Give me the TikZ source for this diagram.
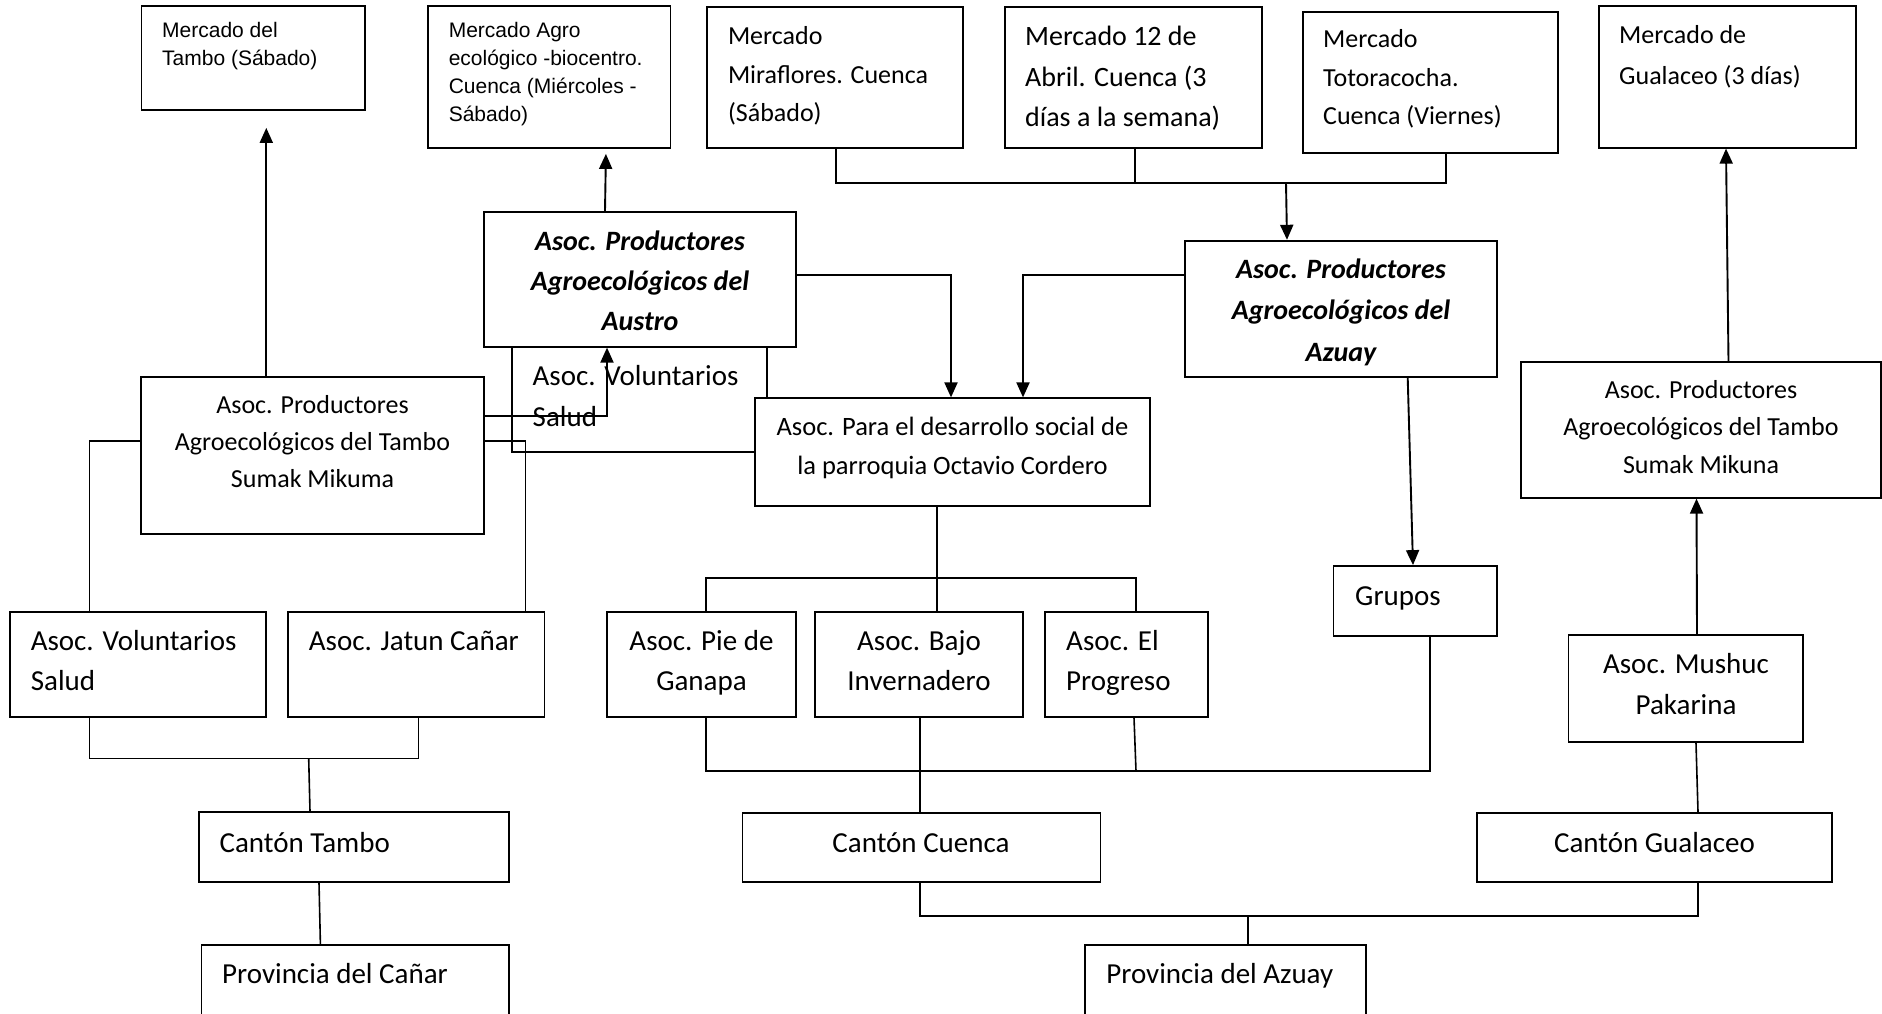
\documentclass[tikz,border=0pt]{standalone}
\usepackage{fontspec}
\setmainfont{Carlito}
\newfontfamily\arialf{Liberation Sans}
\usetikzlibrary{arrows.meta,fit}
\begin{document}
\begin{tikzpicture}[x=1pt,y=-1pt,
  box/.style={draw=black, line width=1.8pt, fill=white, inner sep=0pt},
  ln/.style={draw=black, line width=1.6pt},
  arr/.style={draw=black, line width=1.9pt, -{Triangle[length=15pt,width=13pt]}},
  tl/.style={inner sep=0pt, anchor=base west, align=left},
  tc/.style={inner sep=0pt, anchor=base, align=center},
  fA/.style={font=\arialf\fontsize{21}{28.2}\selectfont},
  fM/.style={font=\fontsize{26}{#1}\selectfont},
  fL/.style={font=\fontsize{28}{40.5}\selectfont},
  fX/.style={font=\fontsize{29}{#1}\selectfont},
  fX/.default=40.7,
  fB/.style={font=\bfseries\itshape\fontsize{28}{#1}\selectfont},
  fB/.default=40.4]
\useasboundingbox (0,0) rectangle (1882,1013);
\clip (0,0) rectangle (1882,1013);
\fill[white] (0,0) rectangle (1882,1013);

% top row markets (text anchors are at the baseline of the last line)
\node[box, fit={(141.5,6) (364.7,110)}] (mT) {};
\node[box, fit={(427.7,6) (670.5,148)}] (mA) {};
\node[box, fit={(706.8,6.7) (962.6,147.7)}] (mM) {};
\node[box, fit={(1005,6.7) (1261.6,147.7)}] (m12) {};
\node[box, fit={(1303,11.7) (1558,152.7)}] (mTo) {};
\node[box, fit={(1598.8,6) (1855.7,147.7)}] (mG) {};
\node[tl, fA] (mTt) at (162,65.5) {Mercado del\\Tambo (Sábado)};
\node[tl, fA] (mAt) at (448.6,121.9) {Mercado Agro\\ecológico -biocentro.\\Cuenca (Miércoles -\\Sábado)};
\node[tl, fM=38.4] (mMt) at (727.8,121.4) {Mercado\\Miraflores. Cuenca\\(Sábado)};
\node[tl, fL] (m12t) at (1025,126.5) {Mercado 12 de\\Abril. Cuenca (3\\días a la semana)};
\node[tl, fM=38.4] (mTot) at (1323,124.7) {Mercado\\Totoracocha.\\Cuenca (Viernes)};
\node[tl, fM=40.5] (mGt) at (1619,84) {Mercado de\\Gualaceo (3 días)};

% middle
\node[box, fit={(511.7,346.7) (766.8,451.7)}] (vf) {};
\node[tl, fX=41.7] (vft) at (532.5,426.7) {Asoc. Voluntarios\\Salud};
\node[box, fit={(483.7,211.7) (796,346.7)}] (aus) {};
\node[tc, fB] (aust) at (640,330.8) {Asoc. Productores\\Agroecológicos del\\Austro};
\node[box, fit={(1184.7,240.7) (1497,376.7)}] (az) {};
\node[tc, fB=41.5] (azt) at (1341,361) {Asoc. Productores\\Agroecológicos del\\Azuay};
\node[box, fit={(141.3,376.7) (483.7,534)}] (mik) {};
\node[tc, fM=37] (mikt) at (312.5,487) {Asoc. Productores\\Agroecológicos del Tambo\\Sumak Mikuma};
\node[box, fit={(755,398.3) (1150,506)}] (para) {};
\node[tc, font=\fontsize{26.5}{38.4}\selectfont] (parat) at (952.5,474) {Asoc. Para el desarrollo social de\\la parroquia Octavio Cordero};
\node[box, fit={(1520.9,362.3) (1881,497.7)}] (mikR) {};
\node[tc, fM=37.5] (mikRt) at (1701,473) {Asoc. Productores\\Agroecológicos del Tambo\\Sumak Mikuna};
\node[box, fit={(1333.4,566) (1496.7,635.7)}] (gr) {};
\node[tl, fX] (grt) at (1355,605) {Grupos};

% associations row
\node[box, fit={(10.2,611.7) (266.3,716.7)}] (vs) {};
\node[tl, fX] (vst) at (30.6,690.7) {Asoc. Voluntarios\\Salud};
\node[box, fit={(288.3,611.7) (544.4,716.7)}] (jc) {};
\node[tl, fX] (jct) at (308.7,650) {Asoc. Jatun Cañar};
\node[box, fit={(607,611.7) (796,716.7)}] (pie) {};
\node[tc, fX] (piet) at (701.5,690.7) {Asoc. Pie de\\Ganapa};
\node[box, fit={(815.2,611.7) (1022.8,716.7)}] (bajo) {};
\node[tc, fX] (bajot) at (919,690.7) {Asoc. Bajo\\Invernadero};
\node[box, fit={(1044.6,611.7) (1207.6,716.7)}] (prog) {};
\node[tl, fX] (progt) at (1066,690.7) {Asoc. El\\Progreso};
\node[box, fit={(1568.4,635) (1803,742.3)}] (mush) {};
\node[tc, fX] (musht) at (1686,714) {Asoc. Mushuc\\Pakarina};

% cantons and provinces
\node[box, fit={(199,812.3) (509.2,881.7)}] (ct) {};
\node[tl, fX] (ctt) at (219.4,852.3) {Cantón Tambo};
\node[box, fit={(742.4,812.7) (1100.4,881.7)}] (cc) {};
\node[tc, fX] (cct) at (921,852) {Cantón Cuenca};
\node[box, fit={(1477,812.7) (1832,881.7)}] (cg) {};
\node[tc, fX] (cgt) at (1654.5,852) {Cantón Gualaceo};
\node[box, fit={(201.5,945) (509.2,1020)}] (pc) {};
\node[tl, fX] (pct) at (222,983.3) {Provincia del Cañar};
\node[box, fit={(1084.8,945) (1366,1020)}] (pa) {};
\node[tl, fX] (pat) at (1106.2,983) {Provincia del Azuay};

% connectors
\draw[arr, shorten >=17pt] (266.3,0 |- mik.north) -- (266.3,0 |- mT.south);
\draw[arr, shorten >=5pt] (605,0 |- aus.north) -- (606,0 |- mA.south);
\draw[ln] (836,0 |- mM.south) |- (1446,183) -- (1446,0 |- mTo.south);
\draw[ln] (1135,0 |- m12.south) -- (1135,183);
\coordinate (jn) at (1286,183);
\draw[arr] (jn) -- (1287,0 |- az.north);
\draw[arr] (aus.east |- 0,275) -| (951,0 |- para.north);
\draw[arr] (az.west |- 0,275) -| (1023,0 |- para.north);
\draw[arr] (mik.east |- 0,416) -| (607,0 |- aus.south);
\draw[ln] (mik.west |- 0,441) -| (89.3,0 |- vs.north);
\draw[ln] (mik.east |- 0,441) -| (525.5,0 |- jc.north);
\draw[ln] (937,0 |- para.south) -- (937,0 |- bajo.north);
\draw[ln] (705.8,0 |- pie.north) |- (1136,577.7) -- (1136,0 |- prog.north);
\draw[ln] (705.8,0 |- pie.south) |- (1430,771) -- (1430,0 |- gr.south);
\draw[ln] (1134,0 |- prog.south) -- (1136,771);
\draw[ln] (920,0 |- bajo.south) -- (920,0 |- cc.north);
\draw[ln] (89.3,0 |- vs.south) |- (418.4,758.3) -- (418.4,0 |- jc.south);
\draw[ln] (308.7,758.3) -- (310,0 |- ct.north);
\draw[ln] (319,0 |- ct.south) -- (320.4,0 |- pc.north);
\draw[ln] (920,0 |- cc.south) |- (1698,916) -- (1698,0 |- cg.south);
\draw[ln] (1248,916) -- (1248,0 |- pa.north);
\draw[ln] (1696,0 |- mush.south) -- (1698,0 |- cg.north);
\draw[arr] (1697,0 |- mush.north) -- (1696.5,0 |- mikR.south);
\draw[arr] (1728.5,0 |- mikR.north) -- (1726,0 |- mG.south);
\draw[arr] (1407.7,0 |- az.south) -- (1413,0 |- gr.north);
\end{tikzpicture}
\end{document}
